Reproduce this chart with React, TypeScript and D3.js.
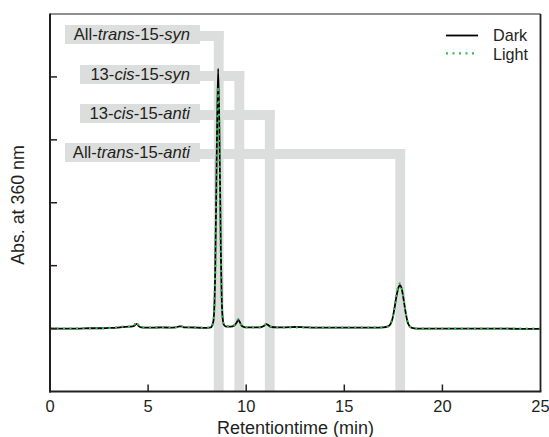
import { scaleLinear, line, curveMonotoneX } from 'd3'

const width = 549
const height = 437
const plotLeft = 50
const plotRight = 540.5
const plotTop = 14
const plotBottom = 391.5

const xTicks = [0, 5, 10, 15, 20, 25]
const yTicks = [0, 1, 2, 3, 4]

// retention time (min), absorbance (a.u.)
const darkTrace: [number, number][] = [
  [0, 0.0], [0.5, 0.0], [1, 0.0], [1.5, 0.0], [2, 0.005], [2.5, 0.005], [3, 0.01],
  [3.4, 0.015], [3.7, 0.025], [4.0, 0.03], [4.2, 0.035], [4.32, 0.05], [4.42, 0.075],
  [4.52, 0.04], [4.65, 0.02], [4.9, 0.015], [5.3, 0.015], [5.7, 0.02], [6.1, 0.015],
  [6.4, 0.02], [6.6, 0.035], [6.7, 0.035], [6.85, 0.02], [7.1, 0.02], [7.5, 0.015],
  [7.9, 0.01], [8.2, 0.02], [8.33, 0.12], [8.42, 0.9], [8.5, 2.8], [8.57, 4.13],
  [8.64, 3.0], [8.71, 1.2], [8.78, 0.25], [8.86, 0.06], [9.0, 0.03], [9.2, 0.03],
  [9.4, 0.05], [9.5, 0.09], [9.6, 0.14], [9.68, 0.1], [9.78, 0.04], [9.95, 0.02],
  [10.3, 0.02], [10.7, 0.02], [10.9, 0.04], [11.02, 0.07], [11.12, 0.055], [11.28, 0.025],
  [11.6, 0.02], [12, 0.02], [12.5, 0.025], [13, 0.02], [13.5, 0.015], [14, 0.015],
  [14.5, 0.015], [15, 0.015], [15.5, 0.015], [16, 0.015], [16.5, 0.015], [17, 0.02],
  [17.2, 0.03], [17.35, 0.07], [17.45, 0.15], [17.55, 0.31], [17.65, 0.5], [17.75, 0.64],
  [17.83, 0.69], [17.92, 0.64], [18.02, 0.47], [18.12, 0.27], [18.22, 0.11], [18.32, 0.04],
  [18.45, 0.01], [18.7, 0.0], [19, 0.0], [19.5, 0.0], [20, 0.0], [21, 0.0], [22, 0.0],
  [23, 0.0], [24, -0.005], [25, -0.005],
]

const lightTrace: [number, number][] = [
  [0, 0.0], [0.5, 0.0], [1, 0.0], [1.5, 0.005], [2, 0.005], [2.5, 0.005], [3, 0.01],
  [3.4, 0.02], [3.7, 0.03], [4.0, 0.03], [4.2, 0.04], [4.32, 0.07], [4.42, 0.11],
  [4.52, 0.05], [4.65, 0.02], [4.9, 0.015], [5.3, 0.02], [5.7, 0.02], [6.1, 0.015],
  [6.4, 0.02], [6.6, 0.03], [6.7, 0.035], [6.85, 0.02], [7.1, 0.02], [7.5, 0.015],
  [7.9, 0.015], [8.2, 0.02], [8.33, 0.11], [8.42, 0.85], [8.5, 2.65], [8.57, 3.85],
  [8.64, 2.85], [8.71, 1.15], [8.78, 0.24], [8.86, 0.06], [9.0, 0.04], [9.2, 0.04],
  [9.4, 0.06], [9.5, 0.1], [9.6, 0.15], [9.68, 0.11], [9.78, 0.05], [9.95, 0.025],
  [10.3, 0.02], [10.7, 0.02], [10.9, 0.04], [11.02, 0.075], [11.12, 0.06], [11.28, 0.03],
  [11.6, 0.02], [12, 0.02], [12.5, 0.02], [13, 0.02], [13.5, 0.015], [14, 0.015],
  [14.5, 0.015], [15, 0.015], [15.5, 0.015], [16, 0.015], [16.5, 0.015], [17, 0.02],
  [17.2, 0.03], [17.35, 0.08], [17.45, 0.16], [17.55, 0.33], [17.65, 0.53], [17.75, 0.67],
  [17.83, 0.72], [17.92, 0.66], [18.02, 0.48], [18.12, 0.27], [18.22, 0.11], [18.32, 0.04],
  [18.45, 0.01], [18.7, 0.0], [19, 0.0], [19.5, 0.0], [20, 0.0], [21, 0.0], [22, 0.0],
  [23, 0.0], [24, 0.0], [25, 0.0],
]

// isomer names: [text, italic]
const isomerNames: [string, boolean][][] = [
  [['All-', false], ['trans', true], ['-15-', false], ['syn', true]],
  [['13-', false], ['cis', true], ['-15-', false], ['syn', true]],
  [['13-', false], ['cis', true], ['-15-', false], ['anti', true]],
  [['All-', false], ['trans', true], ['-15-', false], ['anti', true]],
]
// elution windows (min)
const windowStart = [8.35, 9.4, 10.95, 17.6]
const windowEnd = [8.85, 9.9, 11.45, 18.1]

// label box layout
const boxTop = [25, 65, 104, 143]
const boxLeft = [65, 80, 80, 65]
const boxRight = 200
const boxHeight = 19

const gray = '#dcdddd'
const ink = '#231f20'
const green = '#3dba4e'
const font = "'Liberation Sans', Arial, sans-serif"

const x = scaleLinear().domain([0, 25]).range([plotLeft, plotRight])
const y = scaleLinear().domain([-1, 5]).range([plotBottom, plotTop])

const trace = line<[number, number]>()
  .x((d) => x(d[0]))
  .y((d) => y(d[1]))
  .curve(curveMonotoneX)

export default function App() {
  return (
    <svg
      width={width}
      height={height}
      style={{ position: 'absolute', left: 0, top: 0, background: '#fff' }}
      fontFamily={font}
    >
      {/* annotation bars */}
      {isomerNames.map((_, i) => {
        const cy = boxTop[i] + boxHeight / 2 + 1.5
        const x0 = x(windowStart[i])
        const x1 = x(windowEnd[i])
        return (
          <g key={i} fill={gray}>
            <rect x={boxLeft[i]} y={boxTop[i]} width={boxRight - boxLeft[i]} height={boxHeight} />
            <rect x={boxRight} y={cy - 5} width={x1 - boxRight} height={10} />
            <rect x={x0} y={cy - 5} width={x1 - x0} height={plotBottom - cy + 5} />
          </g>
        )
      })}
      {isomerNames.map((parts, i) => (
        <text
          key={i}
          x={190}
          y={boxTop[i] + 14.5}
          textAnchor="end"
          fontSize={16.6}
          fill={ink}
        >
          {parts.map(([t, it], j) => (
            <tspan key={j} fontStyle={it ? 'italic' : 'normal'}>
              {t}
            </tspan>
          ))}
        </text>
      ))}

      {/* traces */}
      <path d={trace(darkTrace) ?? ''} fill="none" stroke="#000" strokeWidth={1.8} />
      <path
        d={trace(lightTrace) ?? ''}
        fill="none"
        stroke={green}
        strokeWidth={2.2}
        strokeDasharray="2 4.5"
      />

      {/* frame */}
      <line x1={plotLeft} x2={plotRight} y1={plotTop} y2={plotTop} stroke={ink} strokeWidth={1.2} />
      <line x1={plotRight} x2={plotRight} y1={plotTop} y2={plotBottom} stroke={ink} strokeWidth={1.8} />
      <line x1={plotLeft} x2={plotLeft} y1={plotTop - 0.6} y2={plotBottom + 1} stroke={ink} strokeWidth={2} />
      <line x1={plotLeft - 1} x2={plotRight + 0.9} y1={plotBottom} y2={plotBottom} stroke={ink} strokeWidth={2} />

      {/* ticks */}
      {yTicks.map((t) => (
        <line key={t} x1={plotLeft} x2={plotLeft + 7} y1={y(t)} y2={y(t)} stroke={ink} strokeWidth={1.5} />
      ))}
      {xTicks.map((t) => (
        <g key={t}>
          {t > 0 && t < 25 && (
            <line x1={x(t)} x2={x(t)} y1={plotBottom} y2={plotBottom - 7} stroke={ink} strokeWidth={1.5} />
          )}
          <text x={x(t)} y={411.5} textAnchor="middle" fontSize={16.5} fill={ink}>
            {t}
          </text>
        </g>
      ))}

      {/* axis titles */}
      <text x={295.5} y={434} textAnchor="middle" fontSize={18} fill={ink}>
        Retentiontime (min)
      </text>
      <text
        transform={`translate(24, 205) rotate(-90)`}
        textAnchor="middle"
        fontSize={17.8}
        fill={ink}
      >
        Abs. at 360 nm
      </text>

      {/* legend */}
      <line x1={446} x2={478} y1={35.5} y2={35.5} stroke="#000" strokeWidth={1.8} />
      <text x={493} y={41} fontSize={16.2} fill={ink}>
        Dark
      </text>
      <line x1={446} x2={478} y1={53.3} y2={53.3} stroke={green} strokeWidth={2.2} strokeDasharray="2 4.5" />
      <text x={493} y={59.6} fontSize={16.2} fill={ink}>
        Light
      </text>
    </svg>
  )
}
